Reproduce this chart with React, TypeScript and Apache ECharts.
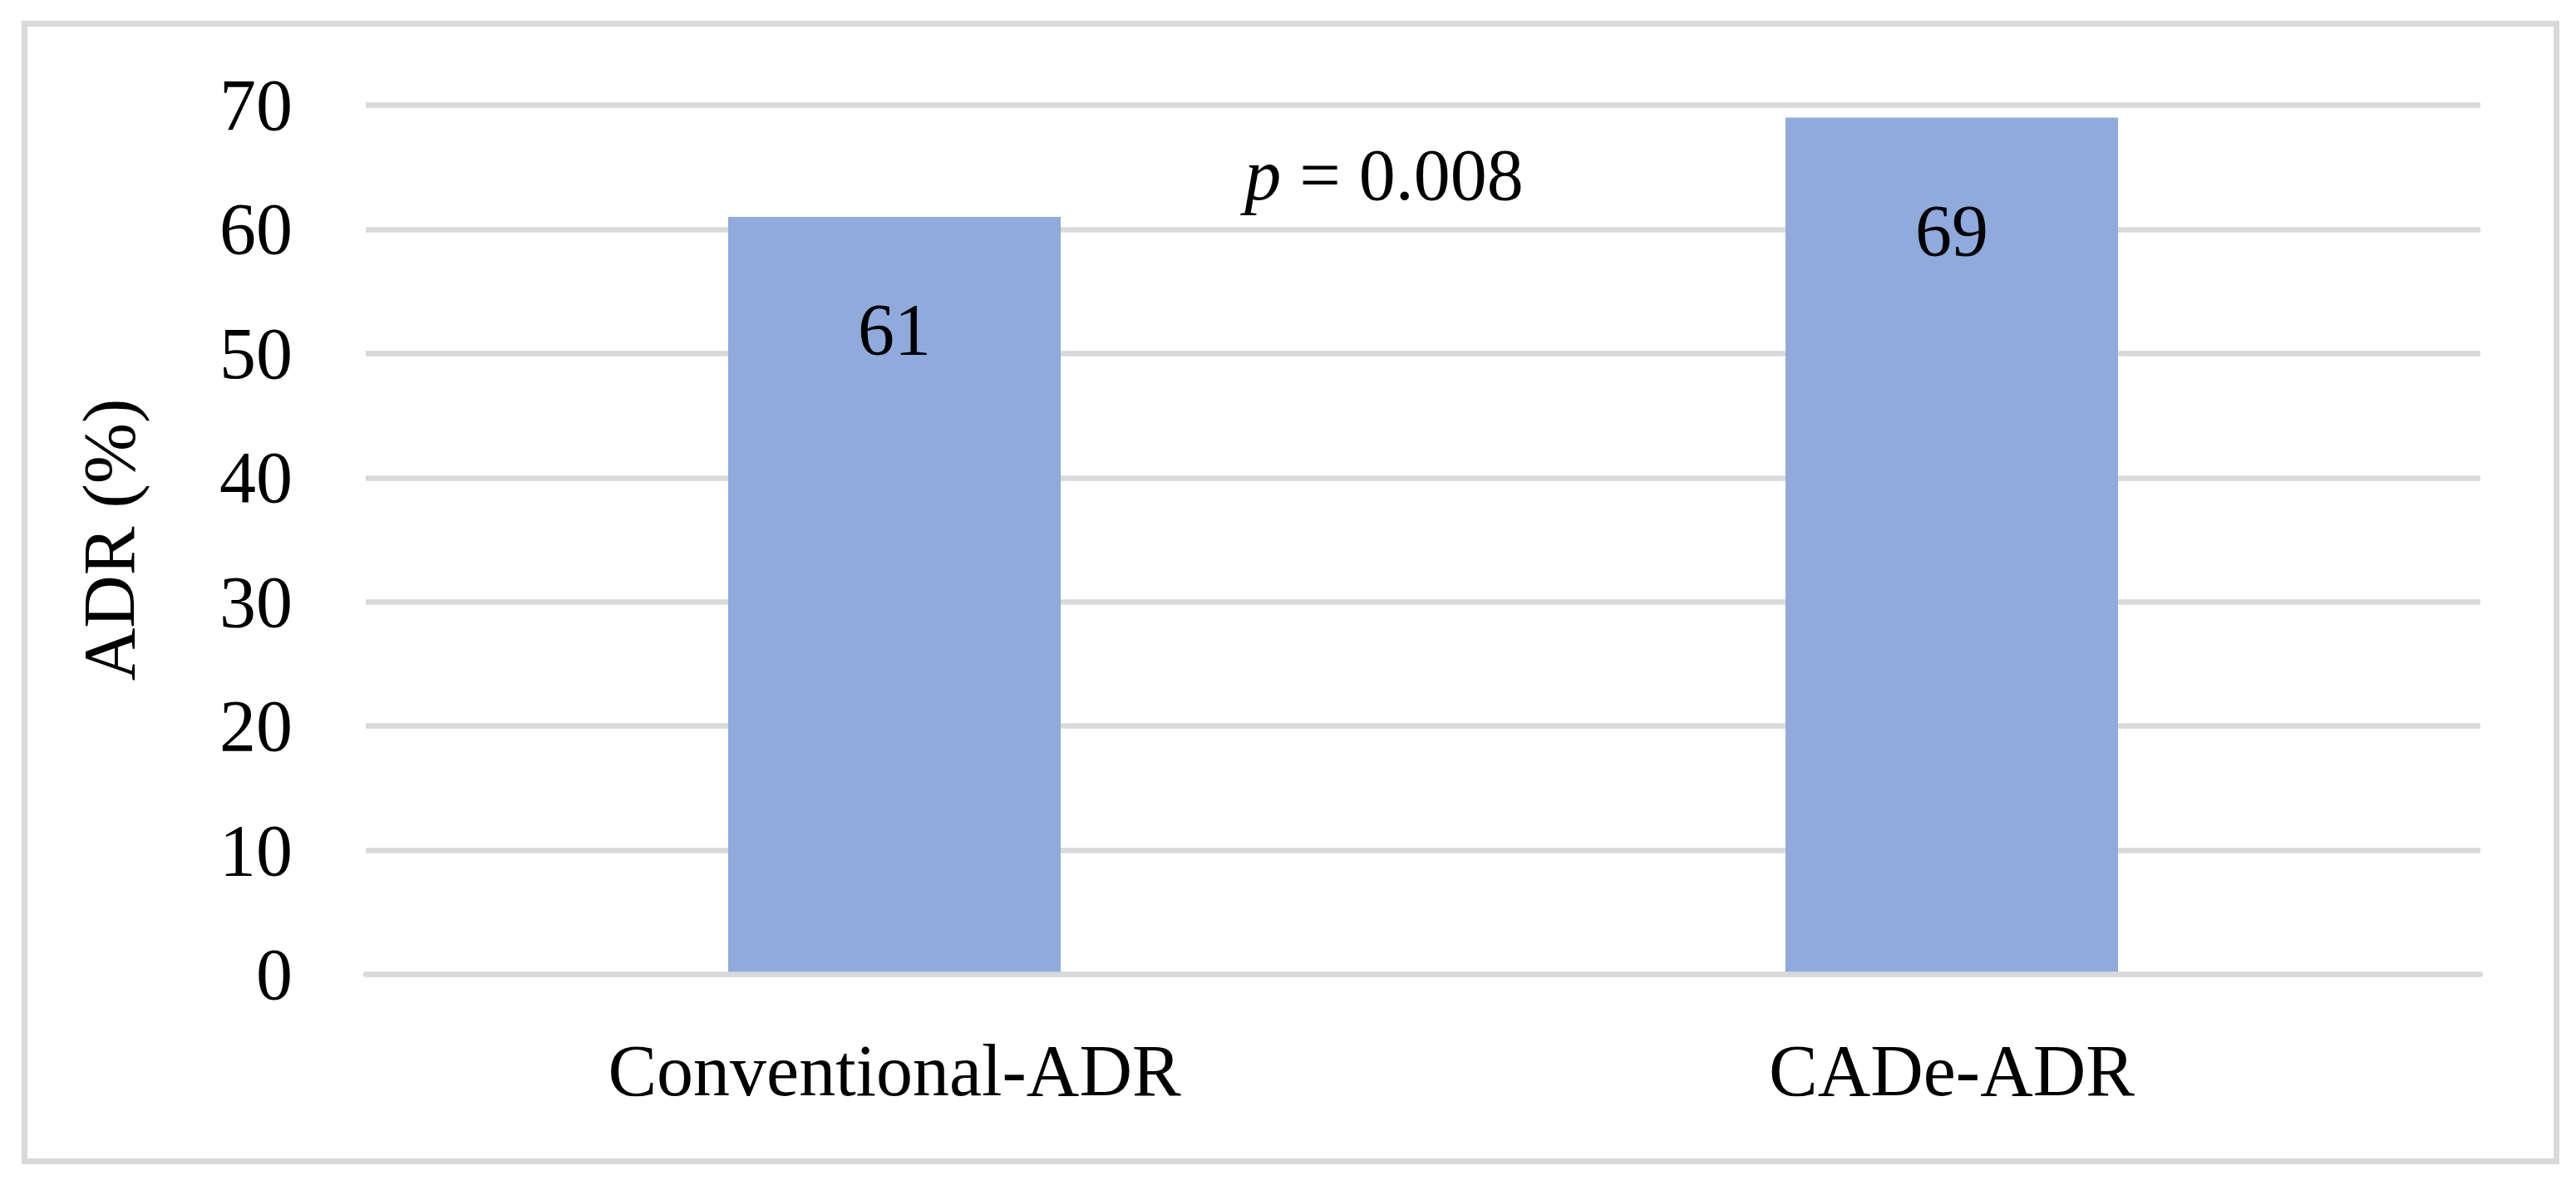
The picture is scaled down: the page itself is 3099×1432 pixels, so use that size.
import React, { useEffect, useRef } from "react";
import * as echarts from "echarts";

const categories = ["Conventional-ADR", "CADe-ADR"];
const adrValues = [61, 69];
const yMin = 0;
const yMax = 70;
const yInterval = 10;
const pValueText = "0.008";

const FONT = "'Liberation Serif', 'Times New Roman', serif";
const GRID_COLOR = "#d9d9d9";
const BAR_COLOR = "#8faadc";

export default function App() {
  const ref = useRef<HTMLDivElement>(null);

  useEffect(() => {
    if (!ref.current) return;
    const chart = echarts.init(ref.current, undefined, { renderer: "svg" });
    chart.setOption({
      animation: false,
      backgroundColor: "#ffffff",
      textStyle: { fontFamily: FONT },
      grid: { left: 440, right: 115, top: 126.5, bottom: 259.5, containLabel: false },
      xAxis: {
        type: "category",
        data: categories,
        z: 3,
        axisLine: { show: true, lineStyle: { color: GRID_COLOR, width: 6.5 } },
        axisTick: { show: false },
        axisLabel: { fontSize: 88, color: "#000", fontFamily: FONT, margin: 72 },
      },
      yAxis: {
        type: "value",
        min: yMin,
        max: yMax,
        interval: yInterval,
        name: "ADR (%)",
        nameLocation: "middle",
        nameRotate: 90,
        nameGap: 265,
        nameTextStyle: { fontSize: 88, color: "#000", fontFamily: FONT },
        axisLine: { show: false },
        axisTick: { show: false },
        axisLabel: { fontSize: 88, color: "#000", fontFamily: FONT, margin: 88 },
        splitLine: { show: true, lineStyle: { color: GRID_COLOR, width: 6.5 } },
      },
      series: [
        {
          type: "bar",
          data: adrValues,
          barWidth: 400,
          itemStyle: { color: BAR_COLOR },
          label: {
            show: true,
            position: "insideTop",
            distance: 92,
            fontSize: 88,
            color: "#000",
            fontFamily: FONT,
          },
        },
      ],
      graphic: [
        {
          type: "rect",
          silent: true,
          shape: { x: 29.5, y: 28.5, width: 3046, height: 1369 },
          style: { fill: "none", stroke: GRID_COLOR, lineWidth: 7 },
          z: 10,
        },
        {
          type: "text",
          x: 1665,
          y: 210,
          silent: true,
          style: {
            text: "{i|p} = " + pValueText,
            rich: {
              i: { fontStyle: "italic", fontSize: 88, fontFamily: FONT, fill: "#000" },
            },
            fontSize: 88,
            fontFamily: FONT,
            fill: "#000",
            align: "center",
            verticalAlign: "middle",
          },
          z: 10,
        },
      ],
    });
    return () => chart.dispose();
  }, []);

  return (
    <div
      ref={ref}
      style={{ position: "absolute", left: 0, top: 0, width: 3099, height: 1432 }}
    />
  );
}
